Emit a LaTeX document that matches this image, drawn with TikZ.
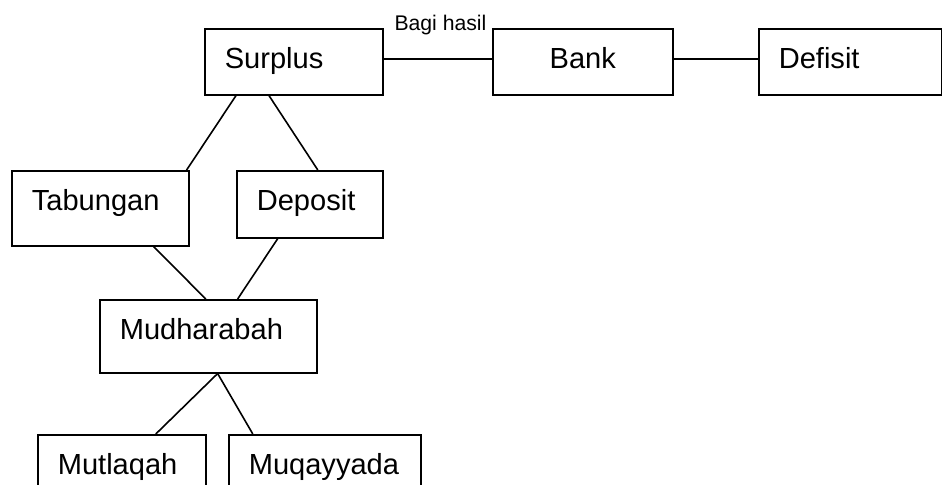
\documentclass[tikz,border=0pt]{standalone}
\usepackage{fontspec}
\setmainfont{Liberation Sans}
\usepackage{tikz}
\usetikzlibrary{positioning}
\tikzset{
  box/.style={draw, line width=1.2pt, anchor=north west, inner xsep=15pt, inner ysep=0pt,
              text height=29.5pt, align=left, font=\fontsize{21.8}{26}\selectfont},
  link/.style={draw, line width=1.2pt},
  note/.style={font=\fontsize{15.9}{19}\selectfont, inner sep=0pt},
}
\begin{document}
\begin{tikzpicture}[x=0.75pt,y=-0.75pt]
    \useasboundingbox (0,0) rectangle (942,485);
    % top row
    \node[box, text width=103.5pt, text depth=20pt] (surplus) at (204,28) {Surplus};
    \node[box, text width=105pt, text depth=20pt, align=center] (bank) at (492,28) {Bank};
    \node[box, text width=107.25pt, text depth=20pt] (defisit) at (758,28) {Defisit};
    % products
    \node[box, text width=102.75pt, text depth=26.7pt] (tabungan) at (11,170) {Tabungan};
    \node[box, text width=79.5pt, text depth=20.7pt] (deposit) at (236,170) {Deposit};
    \node[box, text width=132.75pt, text depth=25.2pt] (mudharabah) at (99,299) {Mudharabah};
    \node[box, text width=96pt, text depth=30pt] (mutlaqah) at (37,434) {Mutlaqah};
    \node[box, text width=114pt, text depth=30pt] (muqayyada) at (228,434) {Muqayyada};
    \draw[link] ([yshift=2.25pt]surplus.east) -- node[note, anchor=base, yshift=21pt, xshift=2pt] (bagi) {Bagi hasil} ([yshift=2.25pt]bank.west);
    \draw[link] ([yshift=2.25pt]bank.east) -- ([yshift=2.25pt]defisit.west);
    \draw[link] ([xshift=24pt]surplus.south west) -- ([xshift=-2.25pt]tabungan.north east);
    \draw[link] ([xshift=48.75pt]surplus.south west) -- ([xshift=6pt]deposit.north);
    \draw[link] ([xshift=40pt]tabungan.south) -- ([xshift=-1.9pt]mudharabah.north);
    \draw[link] ([xshift=-24pt]deposit.south) -- ([xshift=22pt]mudharabah.north);
    \draw[link] ([xshift=7pt]mudharabah.south) -- ([xshift=25.5pt]mutlaqah.north);
    \draw[link] ([xshift=7pt]mudharabah.south) -- ([xshift=-54pt]muqayyada.north);
\end{tikzpicture}
\end{document}
